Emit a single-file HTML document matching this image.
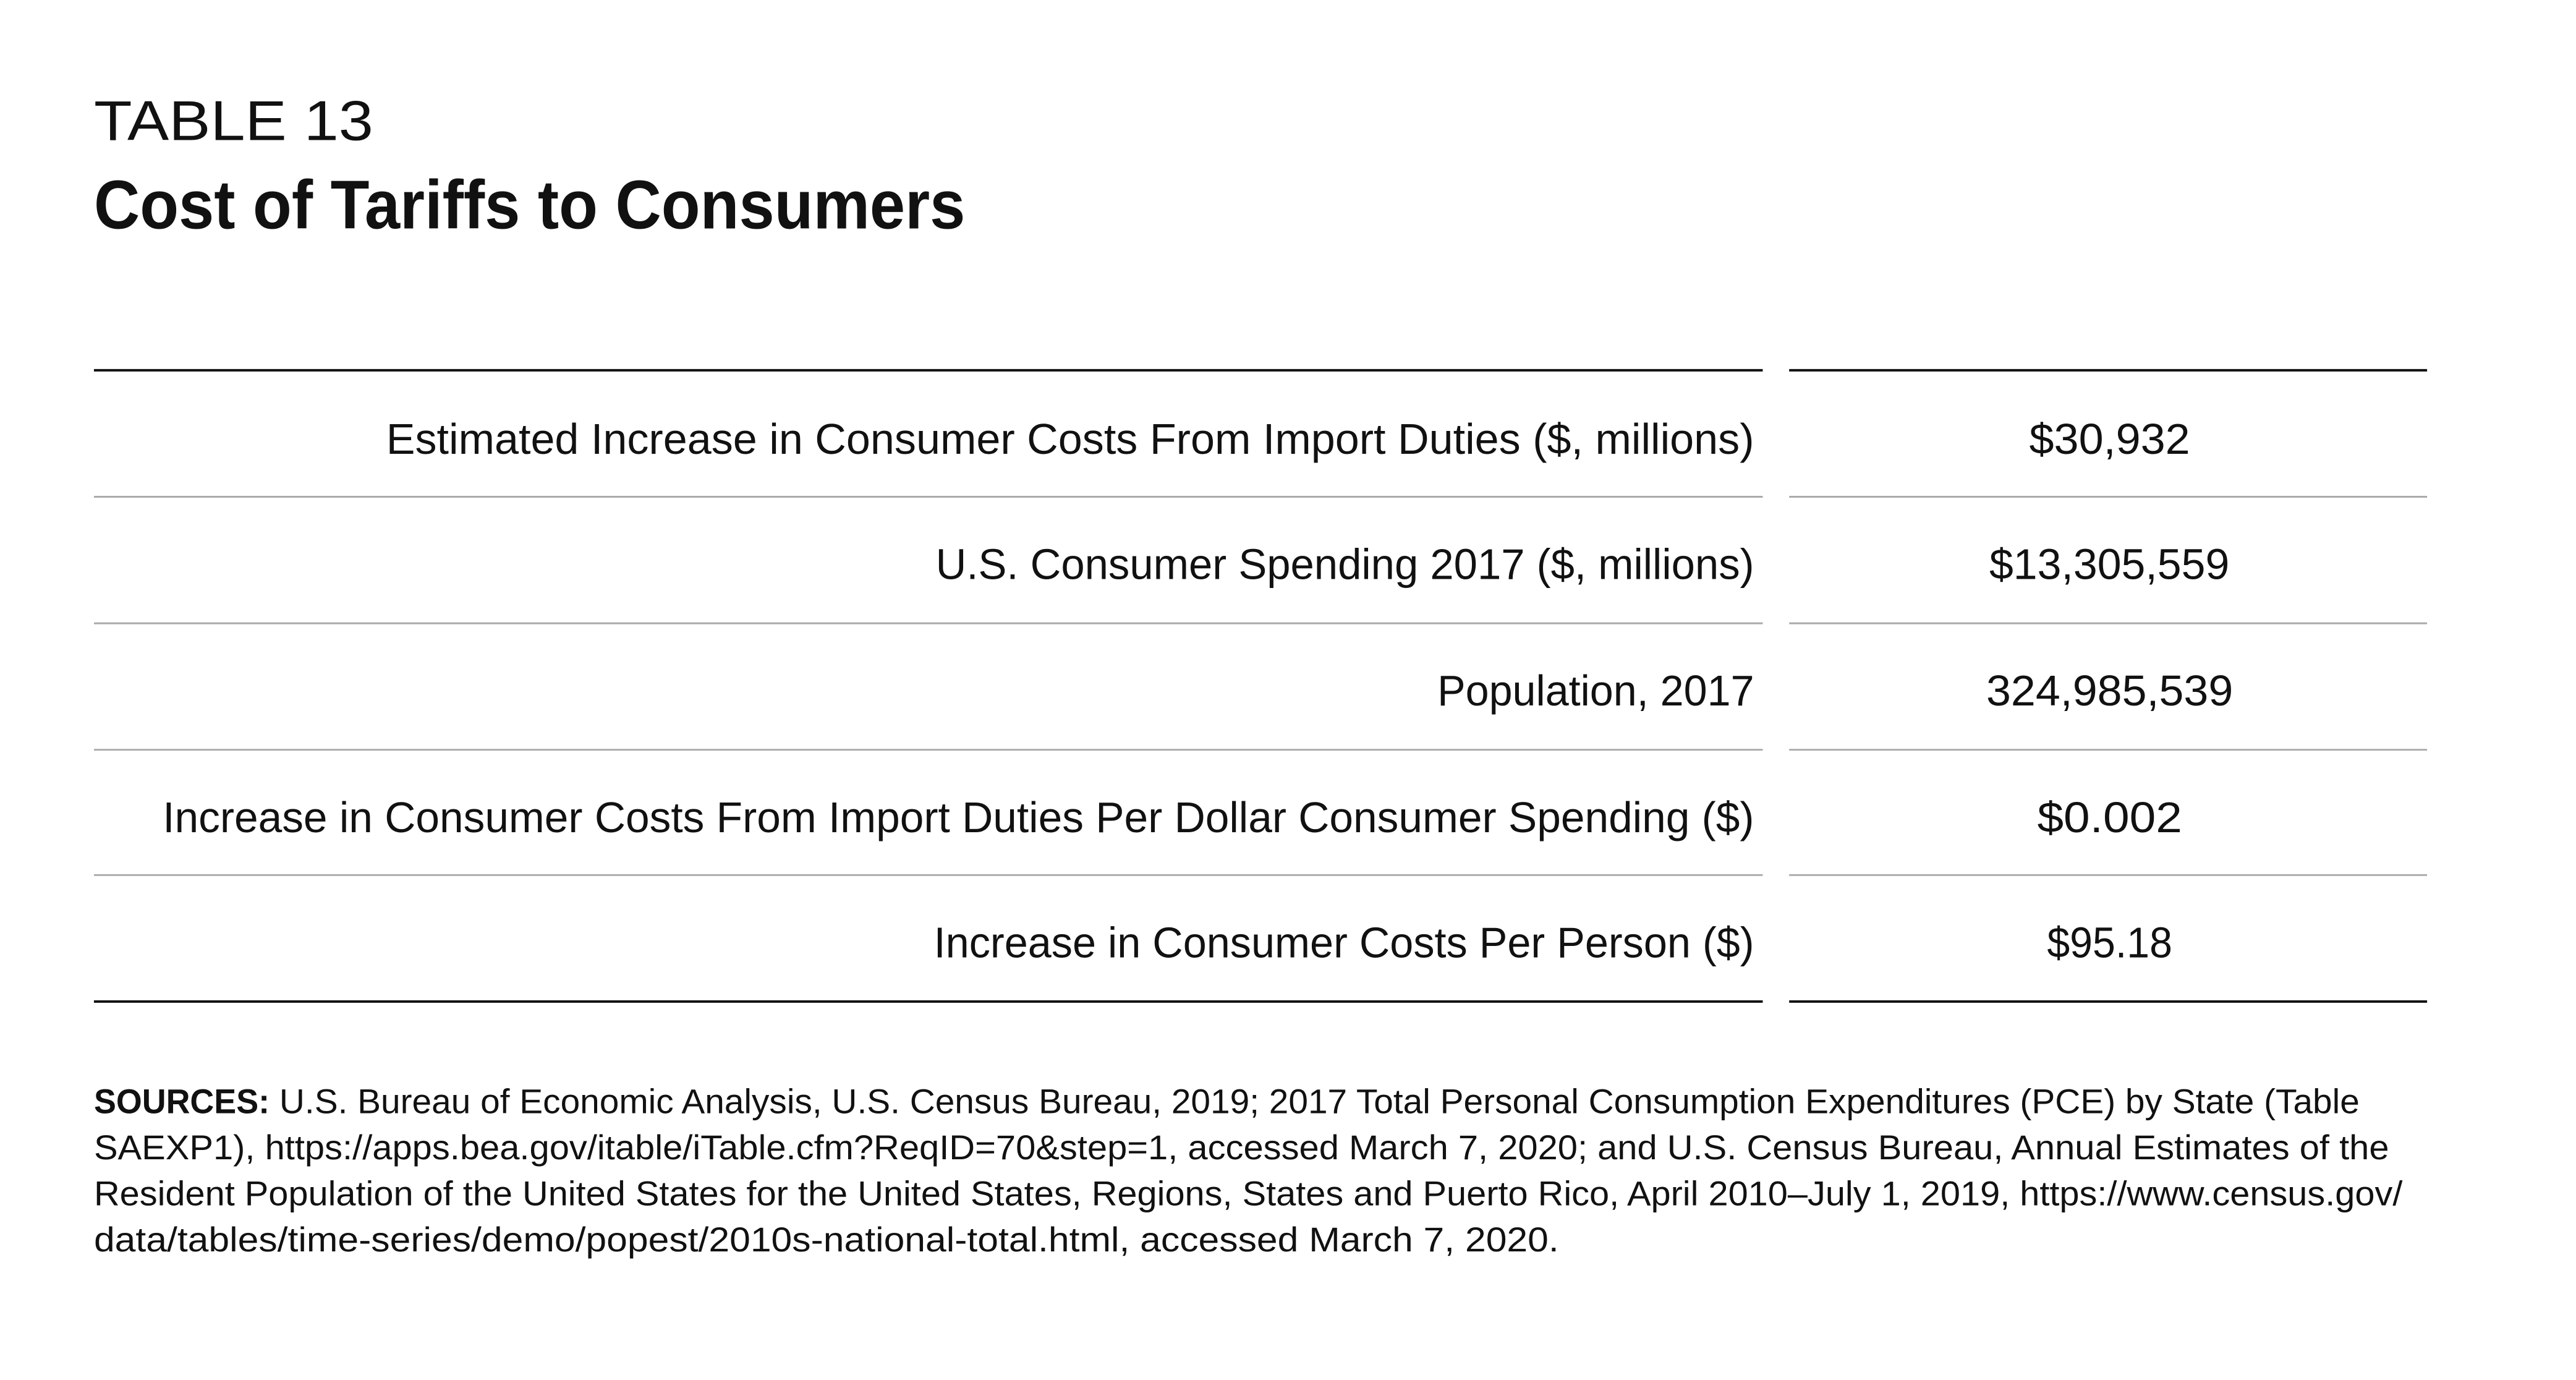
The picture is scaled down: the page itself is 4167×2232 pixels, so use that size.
<!DOCTYPE html>
<html><head><meta charset="utf-8"><style>html,body{margin:0;padding:0;background:#fff}svg{display:block}</style></head>
<body>
<svg width="4167" height="2232" viewBox="0 0 4167 2232" xmlns="http://www.w3.org/2000/svg" font-family="Liberation Sans, sans-serif" fill="#111">
<g transform="scale(0.9932)">
<text x="153" y="228" font-size="92" textLength="455" lengthAdjust="spacingAndGlyphs">TABLE 13</text>
<text x="153" y="372" font-size="112" font-weight="bold" textLength="1419" lengthAdjust="spacingAndGlyphs">Cost of Tariffs to Consumers</text>
<g stroke-width="4">
<line x1="153" y1="603" x2="2871" y2="603" stroke="#111"/>
<line x1="2914" y1="603" x2="3953" y2="603" stroke="#111"/>
<line x1="153" y1="1631" x2="2871" y2="1631" stroke="#111"/>
<line x1="2914" y1="1631" x2="3953" y2="1631" stroke="#111"/>
</g>
<g stroke="#aaa" stroke-width="3">
<line x1="153" y1="809" x2="2871" y2="809"/><line x1="2914" y1="809" x2="3953" y2="809"/>
<line x1="153" y1="1015" x2="2871" y2="1015"/><line x1="2914" y1="1015" x2="3953" y2="1015"/>
<line x1="153" y1="1221" x2="2871" y2="1221"/><line x1="2914" y1="1221" x2="3953" y2="1221"/>
<line x1="153" y1="1425" x2="2871" y2="1425"/><line x1="2914" y1="1425" x2="3953" y2="1425"/>
</g>
<g font-size="70">
<text x="629" y="739" textLength="2228" lengthAdjust="spacingAndGlyphs">Estimated Increase in Consumer Costs From Import Duties ($, millions)</text>
<text x="3305" y="739" textLength="262" lengthAdjust="spacingAndGlyphs">$30,932</text>
<text x="1524" y="943" textLength="1333" lengthAdjust="spacingAndGlyphs">U.S. Consumer Spending 2017 ($, millions)</text>
<text x="3240" y="943" textLength="391" lengthAdjust="spacingAndGlyphs">$13,305,559</text>
<text x="2341" y="1149" textLength="516" lengthAdjust="spacingAndGlyphs">Population, 2017</text>
<text x="3235" y="1149" textLength="402" lengthAdjust="spacingAndGlyphs">324,985,539</text>
<text x="265" y="1355" textLength="2592" lengthAdjust="spacingAndGlyphs">Increase in Consumer Costs From Import Duties Per Dollar Consumer Spending ($)</text>
<text x="3318" y="1355" textLength="236" lengthAdjust="spacingAndGlyphs">$0.002</text>
<text x="1521" y="1559" textLength="1336" lengthAdjust="spacingAndGlyphs">Increase in Consumer Costs Per Person ($)</text>
<text x="3334" y="1559" textLength="204" lengthAdjust="spacingAndGlyphs">$95.18</text>
</g>
<g font-size="56">
<text x="153" y="1813" font-weight="bold" textLength="286" lengthAdjust="spacingAndGlyphs">SOURCES:</text>
<text x="455" y="1813" textLength="3388" lengthAdjust="spacingAndGlyphs">U.S. Bureau of Economic Analysis, U.S. Census Bureau, 2019; 2017 Total Personal Consumption Expenditures (PCE) by State (Table</text>
<text x="153" y="1888" textLength="3738" lengthAdjust="spacingAndGlyphs">SAEXP1), https://apps.bea.gov/itable/iTable.cfm?ReqID=70&amp;step=1, accessed March 7, 2020; and U.S. Census Bureau, Annual Estimates of the</text>
<text x="153" y="1963" textLength="3760" lengthAdjust="spacingAndGlyphs">Resident Population of the United States for the United States, Regions, States and Puerto Rico, April 2010–July 1, 2019, https://www.census.gov/</text>
<text x="153" y="2038" textLength="2386" lengthAdjust="spacingAndGlyphs">data/tables/time-series/demo/popest/2010s-national-total.html, accessed March 7, 2020.</text>
</g>
</g>
</svg>
</body></html>
